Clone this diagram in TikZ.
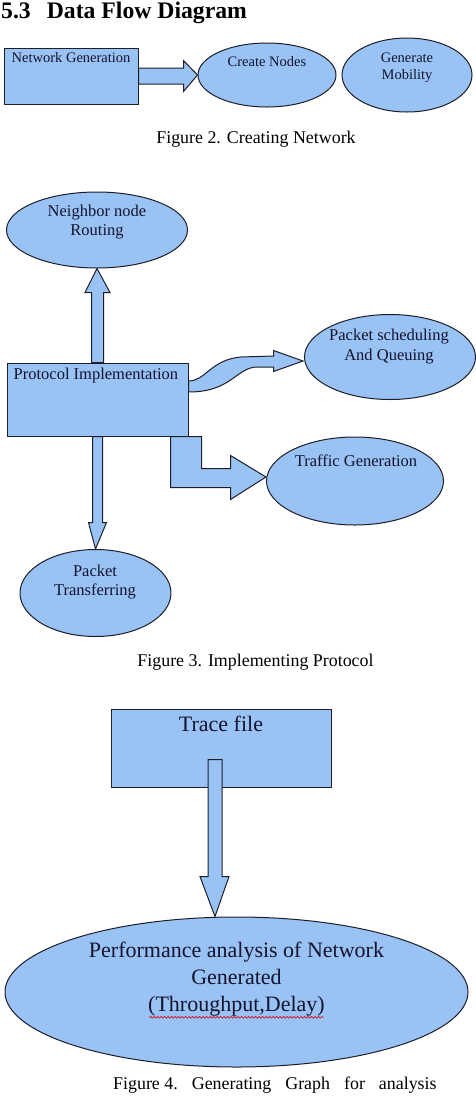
\documentclass[tikz,border=0pt]{standalone}
\usepackage{fontspec}
\setmainfont{Liberation Serif}
\usetikzlibrary{shapes.geometric,calc,decorations.pathmorphing}
\definecolor{fillblue}{RGB}{153,194,245}
\definecolor{edge}{RGB}{30,30,40}
\definecolor{ink}{RGB}{20,20,45}
\tikzset{
box/.style={draw=edge,fill=fillblue,line width=1pt,inner sep=0pt},
oval/.style={box,ellipse},
fat/.style={draw=edge,fill=fillblue,line width=1pt,line join=miter},
txt/.style={inner sep=0pt,text=ink,align=center},
capt/.style={inner sep=0pt,anchor=base,font=\fontsize{17.9}{21}\selectfont}
}
\begin{document}
\begin{tikzpicture}[x=1pt,y=-1pt,line join=round,line cap=round]
\useasboundingbox (0,0) rectangle (476,1096);
\node[anchor=base west,inner sep=0pt,font=\bfseries\fontsize{23.7}{28}\selectfont] (head) at (1,18) {5.3\hspace{16pt}Data Flow Diagram};

% Figure 2
\begin{scope}[font=\fontsize{14.5}{17}\selectfont]
\node[box,minimum width=134pt,minimum height=56pt] (netgen) at (71,76) {};
\node[txt,anchor=north west] (netgenT) at ($(netgen.north west)+(8,5)$) {Network Generation};
\node[oval,minimum width=138pt,minimum height=64pt] (create) at (267,75) {};
\node[txt] (createT) at (267,62) {Create Nodes};
\node[oval,minimum width=130pt,minimum height=74pt] (mobil) at (407,75) {};
\node[txt] (mobilT) at (407,67.5) {Generate\\Mobility};
\begin{scope}[shift={(netgen.east)}]
\draw[fat] (0,-8)--(45,-8)--(45,-15.5)--(create.west)--(45,15.5)--(45,8)--(0,8)--cycle;
\end{scope}
\end{scope}
\node[capt] (cap2) at (256,143.5) {Figure 2. Creating Network};

% Figure 3
\begin{scope}[font=\fontsize{16.5}{19.5}\selectfont]
\node[oval,minimum width=181pt,minimum height=76pt] (neighbor) at (97,230) {};
\node[txt] (neighborT) at (97,222) {Neighbor node\\Routing};
\node[box,minimum width=181pt,minimum height=73pt] (proto) at (97.5,399.5) {};
\node[txt,anchor=north west] (protoT) at ($(proto.north west)+(7,5)$) {Protocol Implementation};
\node[oval,minimum width=171pt,minimum height=85pt] (queue) at (390,357) {};
\node[txt] (queueT) at (389,346.5) {Packet scheduling\\And Queuing};
\node[oval,minimum width=177pt,minimum height=88pt] (traffic) at (355,481) {};
\node[txt] (trafficT) at (356,461) {Traffic Generation};
\node[oval,minimum width=151pt,minimum height=87pt] (transfer) at (95.5,593) {};
\node[txt] (transferT) at (95,582) {Packet\\Transferring};
\coordinate (qtip) at ($(queue.west)+(-1,4)$);
\coordinate (ttip) at ($(traffic.west)+(0,-4)$);
\begin{scope}[shift={(proto.north)}]
\draw[fat] (-6,0)--(-6,-70)--(-12.5,-70)--(neighbor.south)--(12.5,-70)--(6,-70)--(6,0)--cycle;
\end{scope}
\begin{scope}[shift={(proto.south)}]
\draw[fat] (-5,0)--(-5,86)--(-9,86)--(transfer.north)--(9,86)--(5,86)--(5,0)--cycle;
\end{scope}
\begin{scope}[shift={(proto.east)}]
\draw[fat] (0,-18.5) .. controls (17,-18.5) and (22,-39.5) .. (52,-42.5)--(85,-43.5)--(85,-49)--(qtip)
--(85,-28)--(85,-32.5)--(67,-32.5) .. controls (47,-30.5) and (42,-7.5) .. (0,-7.5)--cycle;
\end{scope}
\begin{scope}[shift={(proto.south east)}]
\draw[fat] (-18,0)--(13,0)--(13,32)--(42,32)--(42,19)--(ttip)--(42,63)--(42,51)--(-18,51)--cycle;
\end{scope}
\end{scope}
\node[capt] (cap3) at (255.5,666) {Figure 3. Implementing Protocol};

% Figure 4
\begin{scope}[font=\fontsize{22}{27}\selectfont]
\node[box,minimum width=220pt,minimum height=78pt] (trace) at (221,748) {};
\node[txt] (traceT) at (221,724) {Trace file};
\node[oval,minimum width=463pt,minimum height=150pt] (perf) at (236.5,992) {};
\node[txt] (perfT) at (236.5,979) {Performance analysis of Network\\Generated\\(Throughput,Delay)};
\coordinate (ptip) at ($(perf.north)+(-21.5,0)$);
\begin{scope}[shift={(trace.south)}]
\draw[fat] (-13,-28)--(1,-28)--(1,89)--(8,89)--(ptip)--(-21,89)--(-13,89)--cycle;
\end{scope}
\draw[red!85!black,line width=.6pt,decorate,decoration={snake,amplitude=.9pt,segment length=3.5pt}]
($(perfT.south)+(-87,1)$)--($(perfT.south)+(87,1)$);
\end{scope}
\node[capt,anchor=base west] (cap4) at (113,1089) {Figure 4.\hspace{14pt}Generating\hspace{14pt}Graph\hspace{14pt}for\hspace{14pt}analysis};
\end{tikzpicture}
\end{document}
